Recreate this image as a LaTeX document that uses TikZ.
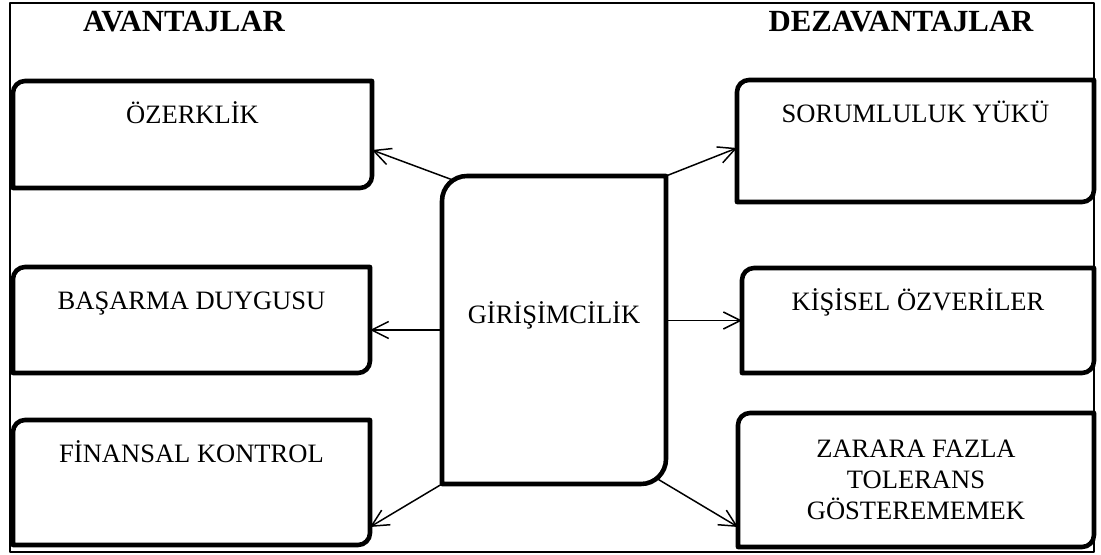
\documentclass[tikz,border=0pt]{standalone}
\usepackage{fontspec}
\setmainfont{Liberation Serif}
\usetikzlibrary{arrows.meta}

\begin{document}
\begin{tikzpicture}[line cap=round,line join=round,
  slot/.style 2 args={inner sep=0pt,outer sep=0pt,minimum width=#1cm,minimum height=#2cm},
  lbl/.style={font=\fontsize{15.1}{17.6}\selectfont,inner sep=0pt,align=center},
  head/.style={font=\fontsize{17.5}{20}\selectfont\bfseries,inner sep=0pt},
  link/.style={line width=0.85pt,-{Straight Barb[length=3.4mm,width=3.4mm]}}]
  \def\frm#1#2{\draw[line width=2.6pt] (#1.north east) -- ([xshift=#2cm]#1.north west)
    arc[start angle=90,end angle=180,radius=#2cm] -- (#1.south west)
    -- ([xshift=-#2cm]#1.south east) arc[start angle=270,end angle=360,radius=#2cm] -- cycle;}
  \useasboundingbox (0,0) rectangle (22.02,11.08);
  \draw[line width=0.85pt] (0.2,0.04) rectangle (21.88,11.02);
  % headings
  \node[head] (avT) at (3.68,10.64) {AVANTAJLAR};
  \node[head] (dezT) at (18.02,10.64) {DEZAVANTAJLAR};
  % boxes
  \node[slot={7.18}{2.14}] (ozer) at (3.85,8.39) {};
  \node[slot={7.14}{2.12}] (basar) at (3.83,4.68) {};
  \node[slot={7.14}{2.50}] (finans) at (3.83,1.43) {};
  \node[slot={4.48}{6.16}] (girisim) at (11.08,4.48) {};
  \node[slot={7.14}{2.44}] (sorum) at (18.31,8.26) {};
  \node[slot={7.04}{2.10}] (kisisel) at (18.36,4.67) {};
  \node[slot={7.12}{2.68}] (zarar) at (18.32,1.48) {};
  \frm{ozer}{0.24}
  \frm{basar}{0.24}
  \frm{finans}{0.24}
  \frm{girisim}{0.5}
  \frm{sorum}{0.24}
  \frm{kisisel}{0.24}
  \frm{zarar}{0.24}
  % texts
  \node[lbl,anchor=base] (ozerT) at ([yshift=-0.85cm]ozer.north) {ÖZERKLİK};
  \node[lbl,anchor=base] (basarT) at ([yshift=-0.85cm]basar.north) {BAŞARMA DUYGUSU};
  \node[lbl,anchor=base] (finansT) at ([yshift=-0.85cm]finans.north) {FİNANSAL KONTROL};
  \node[lbl,anchor=base] (girisimT) at ([yshift=0.12cm]girisim.center) {GİRİŞİMCİLİK};
  \node[lbl,anchor=base] (sorumT) at ([yshift=-0.85cm]sorum.north) {SORUMLULUK YÜKÜ};
  \node[lbl,anchor=base] (kisiselT) at ([yshift=-0.85cm]kisisel.north) {KİŞİSEL ÖZVERİLER};
  \node[lbl] (zararT) at (zarar.center) {ZARARA FAZLA\\TOLERANS\\GÖSTEREMEMEK};
  % arrows
  \draw[link,shorten <=-0.2cm] (girisim.north west) -- ([yshift=-0.31cm]ozer.east);
  \draw[link] (girisim.west) -- (girisim.west -| basar.east);
  \draw[link] (girisim.south west) -- ([yshift=0.36cm]finans.south east);
  \draw[link] (girisim.north east) -- ([yshift=-0.14cm]sorum.west);
  \draw[link] (kisisel.west -| girisim.east) -- (kisisel.west);
  \draw[link,shorten <=-0.2cm] (girisim.south east) -- ([yshift=0.4cm]zarar.south west);
\end{tikzpicture}
\end{document}
